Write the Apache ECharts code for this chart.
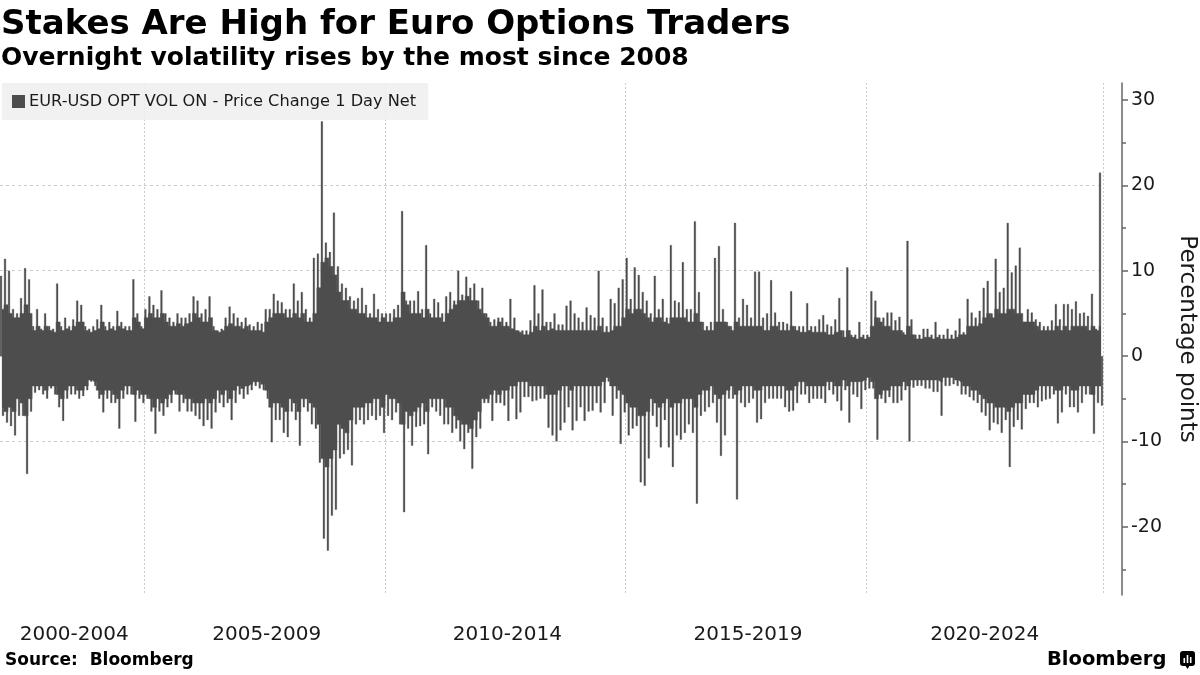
<!DOCTYPE html>
<html><head><meta charset="utf-8">
<script src="https://cdn.jsdelivr.net/npm/echarts@6/dist/echarts.min.js"></script>
<style>html,body{margin:0;padding:0;background:#fff}#c{width:1200px;height:675px}</style>
</head><body><div id="c"></div>
<script>
const seriesName = 'EUR-USD OPT VOL ON - Price Change 1 Day Net';
const firstYear = 2002, lastYear = 2024, lastMonth = 11;

// Band labels on the x axis and the month category each is centred on
const bandLabels = ['2000-2004', '2005-2009', '2010-2014', '2015-2019', '2020-2024'];
const bandLabelMonths = ['2003-07', '2007-07', '2012-07', '2017-07', '2022-06'];
const bandStartYears = ['2005', '2010', '2015', '2020'];

// y axis ticks
const yMajorTicks = [-20, -10, 0, 10, 20, 30];
const yMinorTicks = [-25, -15, -5, 5, 15, 25];

// Largest daily rise in each month (percentage points)
const high2002_2004 = [
  9.4, 11.4, 10, 5.5, 5, 6.8, 10.3, 9, 3.5, 5.5, 3.2, 5,
  3.5, 3.2, 8.5, 3.5, 4.5, 3.5, 4.3, 6.5, 6, 3.5, 3.2, 3.5,
  4.3, 6, 3.5, 4, 3.5, 5.3, 4, 3.5, 3.5, 9, 5, 3.5
];
const high2005_2009 = [
  5.5, 7, 6, 5.5, 7.7, 5, 4.5, 4, 5, 4.5, 4.5, 5,
  7, 6.5, 5, 5.5, 7, 3.5, 3, 3.2, 4.5, 5.8, 5, 4.5,
  4, 4.5, 3.7, 3.5, 4, 3.8, 5.5, 5.5, 7.3, 6.5, 6.3, 5.5,
  5.5, 8.5, 6.5, 7.5, 5.5, 4.5, 11.5, 12, 27.5, 13.3, 12.2, 16.8,
  10.5, 8.5, 8, 7, 6.5, 6.8, 8, 6, 5, 7.3, 5.5, 5
];
const high2010_2014 = [
  5, 5, 5.5, 6, 17, 6.5, 6.5, 6.5, 7.6, 5.5, 13, 5,
  6.7, 6.3, 5, 7, 7.5, 6.5, 10, 7.2, 9.3, 8, 8.5, 6.5,
  8, 5, 4, 4.3, 4.5, 4.5, 4, 6.7, 4.5, 3, 3, 3,
  4.2, 8.3, 5, 7.8, 4, 4, 5, 3.7, 3.7, 5.9, 6.5, 5,
  4.5, 4, 5.7, 4.8, 4.5, 10, 4.5, 3.5, 6.7, 6.2, 8, 9
];
const high2015_2019 = [
  11.5, 6.7, 10.4, 9.5, 7.5, 6.5, 5, 9.4, 5.5, 6.7, 4.5, 13,
  6.5, 6.3, 11, 5.5, 5.5, 15.8, 7.5, 4, 3.5, 4, 11.5, 12.9,
  5.5, 4, 3.5, 15.6, 4.5, 6.7, 6, 4.5, 9.9, 9.9, 4.5, 5,
  8.9, 5.1, 4, 4, 3.8, 7.6, 3.5, 3.5, 3.5, 6.2, 3.5, 3.5,
  4.3, 4.8, 3.7, 3.5, 4.3, 6.8, 3, 10.4, 2.5, 2.5, 4, 2.5
];
const high2020_2024 = [
  2.5, 7.6, 6.5, 4.5, 4.5, 5.1, 5.1, 4.2, 4.6, 2.8, 13.5, 4.3,
  2.5, 2.5, 3.2, 3.2, 2.5, 4, 2.5, 2.5, 3.2, 2.5, 3, 4.4,
  2.8, 6.7, 5.1, 4.5, 5.3, 8, 8.8, 5, 11.4, 7.5, 8, 15.6,
  9.8, 10.6, 12.7, 4, 5.5, 5.1, 4.3, 4, 3.5, 3.5, 4.2, 6.1,
  4.3, 6.1, 6.1, 5.5, 6.4, 5, 5.1, 4.7, 7.3, 3.2, 21.5
];

// Largest daily fall in each month
const low2002_2004 = [
  -7, -7.8, -8.2, -9.3, -7, -7, -13.8, -6.5, -4.3, -4, -4.5, -5,
  -3.8, -4.5, -6, -7.6, -5, -4.5, -4.5, -5, -4.7, -4, -3, -3.5,
  -5, -6.6, -5, -5.5, -5.5, -8.5, -5, -4.5, -4.5, -7.7, -5, -5.5
];
const low2005_2009 = [
  -5, -6.5, -9.1, -6.5, -7, -6, -5.5, -4.5, -6.5, -5.5, -6.5, -6.5,
  -7, -7.4, -8.2, -7.5, -8.5, -6.6, -5.5, -6, -5.5, -7.5, -5.5, -4.5,
  -5, -4.5, -4, -3.5, -3.8, -4, -5, -10.1, -7.5, -7.5, -9, -9.5,
  -6.5, -7.5, -10.5, -6, -6.5, -8, -8.5, -12.5, -21.4, -22.8, -18.7, -18,
  -12, -11.5, -11, -12.8, -8, -7.5, -8, -7.5, -7, -7.5, -7, -9
];
const low2010_2014 = [
  -7, -7.5, -6.6, -8, -18.3, -8.5, -10.5, -8.3, -8.2, -8, -11.5, -6,
  -6.5, -7, -8, -8, -9, -8.5, -10, -10.9, -9, -13.2, -9.5, -8.5,
  -5.5, -5.5, -7.6, -5.5, -5.5, -5.8, -7.6, -5, -7.4, -6.6, -4.8, -4.8,
  -5.3, -5.2, -5, -5, -8.4, -9.3, -10, -8.7, -7.8, -6, -8.7, -7.6,
  -6, -7.6, -6.5, -6.4, -5.5, -6.6, -5.5, -3, -7, -5, -10.3, -6.6
];
const low2015_2019 = [
  -9.3, -8.5, -8.2, -14.8, -15.2, -12, -7, -8.3, -10.7, -7.5, -10.7, -13,
  -9.3, -9.8, -9, -8, -9, -17.3, -7, -6.5, -6, -5.5, -7.8, -11.7,
  -9.3, -5, -5, -16.8, -5.5, -6, -5.5, -5, -7.8, -7.4, -5.5, -5,
  -5, -5, -5, -6, -6.5, -6.4, -5.5, -4.5, -4.5, -5.5, -5, -5,
  -5, -5.5, -4, -4.5, -5.3, -6.4, -4, -7.8, -4.5, -4.8, -6.2, -4
];
const low2020_2024 = [
  -3.8, -3.8, -9.8, -5, -5.5, -4.8, -5.5, -5.5, -5.2, -4, -10, -3.7,
  -3.5, -3.5, -3.8, -3.8, -4.2, -4.2, -7, -3.5, -3.5, -3.3, -3.5, -4.5,
  -4.5, -4.8, -5.2, -5.5, -6.6, -7, -8.7, -7.8, -8, -9, -7.5, -13,
  -8.3, -7.5, -8.6, -6.2, -5.5, -5.5, -6, -5.3, -5.1, -5, -4.5, -7.9,
  -6.6, -4.5, -6, -6, -6.6, -5.5, -4.5, -4.5, -9.1, -5.5, -5.8
];

// Edge of the dense band of ordinary daily rises, per month
const typicalRise2002_2004 = [
  5.5, 6, 5, 4.5, 4.5, 5, 6, 5, 3, 3.5, 3, 3.5,
  3, 2.8, 4, 3, 3.2, 3, 3.5, 4, 4, 3, 2.8, 3,
  3.2, 4, 3, 3.2, 3, 3.5, 3.2, 3, 3, 4.5, 4, 3.2
];
const typicalRise2005_2009 = [
  4.5, 5, 4.5, 4.5, 5, 4, 3.5, 3.5, 3.8, 3.5, 3.8, 4,
  5, 4.5, 4, 4, 4.5, 3, 2.8, 3, 3.5, 3.8, 3.5, 3.5,
  3.2, 3.5, 3, 3, 3, 2.8, 4, 4.5, 5, 5, 5, 4.5,
  4.5, 5, 4.5, 5, 4, 4, 5, 8, 11, 11.5, 10.5, 9.5,
  7.5, 6.5, 6.5, 5.5, 5.5, 5, 5, 4.5, 4.5, 4.5, 4, 4.5
];
const typicalRise2010_2014 = [
  4, 4, 4.5, 4.5, 7.5, 6, 5, 5, 5, 4.5, 5.5, 4.5,
  4.5, 4.5, 4, 5, 5.5, 6, 6.5, 6.5, 7, 6.5, 6.5, 5.5,
  5, 4.5, 3.5, 3.5, 4, 3.5, 3.5, 3.2, 3, 2.8, 2.5, 2.5,
  2.8, 3.5, 3, 3.5, 3, 3.2, 3, 3, 3, 3, 3, 3,
  3, 3, 3, 3, 3, 3.5, 2.8, 2.8, 3, 3.5, 3.5, 4.5
];
const typicalRise2015_2019 = [
  5.5, 5, 5.5, 5.5, 5, 4.5, 4, 4.5, 4.5, 4, 3.8, 4.5,
  4.5, 4.5, 4.5, 4, 4, 5, 4, 3, 3, 3, 4, 4,
  4, 3.5, 3, 4, 3.5, 3.5, 3.5, 3.5, 3.5, 3.5, 3, 3,
  3.5, 3.5, 3, 3, 3, 3.5, 3, 2.8, 2.8, 3, 2.8, 2.8,
  2.8, 2.8, 2.5, 2.5, 2.8, 3, 2.2, 3, 2.2, 2, 2.2, 2
];
const typicalRise2020_2024 = [
  2.2, 3.5, 4.5, 4, 3.5, 3.5, 3, 3, 3, 2.5, 3.5, 2.5,
  2, 2, 2.2, 2.2, 2, 2.2, 2, 2, 2, 2, 2.2, 2.5,
  2.5, 3.5, 3.5, 3.5, 3.8, 4.5, 5, 4.5, 5.5, 5, 5, 5.5,
  5.5, 5, 5, 4, 4, 4, 3.5, 3, 3, 3, 3, 3.5,
  3, 3.5, 3, 3.5, 3.5, 3.5, 3.5, 3, 3.5, 3, 3.5
];

// Edge of the dense band of ordinary daily falls, per month
const typicalFall2002_2004 = [
  -6, -6.5, -6, -6.5, -5, -5.5, -7, -5, -3.5, -3.5, -3.5, -4,
  -3.5, -3.5, -4.5, -5, -4, -3.5, -3.5, -4, -4, -3.5, -2.8, -3,
  -4, -4.5, -4, -4, -4.5, -5, -4, -3.5, -3.5, -4.5, -4, -4.5
];
const typicalFall2005_2009 = [
  -4.5, -5, -6, -5, -5.5, -5, -4.5, -4, -4.5, -4.5, -5, -5,
  -5.5, -5.5, -5.5, -5, -5.5, -5, -4, -4.5, -4, -5, -4, -3.5,
  -3.8, -3.5, -3.3, -3, -3, -3.3, -4, -6, -5.5, -5.5, -6, -6.5,
  -5, -5.5, -6.5, -5, -5, -5.5, -6, -8, -12, -13, -12, -11,
  -8, -8.5, -9, -7.5, -6, -6, -6, -5.5, -5.5, -5, -5, -6
];
const typicalFall2010_2014 = [
  -4.5, -5, -5, -5.5, -8, -6.5, -7, -6.5, -6, -5.5, -6.5, -5,
  -5, -5, -5, -6, -6, -7, -7.5, -8, -8, -8.5, -7.5, -6.5,
  -5, -5, -4.5, -4, -4.5, -4, -4, -3.5, -3.5, -3, -3, -3,
  -3.5, -3.5, -3.5, -3.5, -4.5, -4.5, -4.5, -4, -3.5, -3.5, -4, -3.5,
  -3.5, -3.5, -3.5, -3.5, -3.5, -3.5, -3, -2.5, -3.5, -3.5, -4, -4.5
];
const typicalFall2015_2019 = [
  -5.5, -6, -6, -7, -7, -6.5, -5, -5.5, -6, -5.5, -5, -6,
  -5.5, -5.5, -5, -5, -5, -6, -4.5, -4, -4, -3.5, -4.5, -5,
  -4.5, -4, -3.5, -4.5, -4, -3.5, -3.5, -3.5, -4, -4, -3.5, -3.5,
  -3.5, -3.5, -3.5, -3.5, -4, -4, -3.5, -3, -3, -3.5, -3.5, -3.5,
  -3.5, -3.5, -3, -3, -3.5, -3.5, -2.8, -3.5, -3, -3, -3, -2.8
];
const typicalFall2020_2024 = [
  -2.5, -3, -5, -4.5, -4, -4, -3.5, -3.5, -3.5, -3, -3.5, -2.8,
  -2.8, -2.8, -2.8, -2.8, -2.8, -2.8, -3, -2.5, -2.5, -2.5, -2.8, -3,
  -3.5, -3.5, -4, -4, -4.5, -5, -5.5, -5.5, -6, -6, -6, -6.5,
  -6, -5.5, -5.5, -4.5, -4.5, -4.5, -4, -3.5, -3.5, -3.5, -3.5, -4,
  -4, -3.5, -3.5, -4, -4, -3.5, -3.5, -3.5, -4.5, -3.5, -3.5
];

// ---- build categories and series from the arrays above ----
const months = [];
for (let y = firstYear; y <= lastYear; y++) {
  for (let m = 1; m <= 12; m++) {
    if (y === lastYear && m > lastMonth) break;
    months.push(y + '-' + String(m).padStart(2, '0'));
  }
}
const monthlyHigh = [].concat(high2002_2004, high2005_2009, high2010_2014, high2015_2019, high2020_2024);
const monthlyLow = [].concat(low2002_2004, low2005_2009, low2010_2014, low2015_2019, low2020_2024);
const typicalRise = [].concat(typicalRise2002_2004, typicalRise2005_2009, typicalRise2010_2014, typicalRise2015_2019, typicalRise2020_2024);
const typicalFall = [].concat(typicalFall2002_2004, typicalFall2005_2009, typicalFall2010_2014, typicalFall2015_2019, typicalFall2020_2024);
const labelFor = {};
bandLabelMonths.forEach((m, i) => { labelFor[m] = bandLabels[i]; });

const barColor = '#4d4d4d';
const textColor = '#1a1a1a';
const gridColor = '#cccccc';
const font = 'DejaVu Sans';

const chart = echarts.init(document.getElementById('c'), null, { renderer: 'canvas' });
const barCommon = {
  name: seriesName, type: 'bar',
  itemStyle: { color: barColor, borderColor: barColor, borderWidth: 0.3 },
  barCategoryGap: '0%', barGap: '0%', silent: true, animation: false
};
const bandCommon = {
  name: seriesName, type: 'line', step: 'middle', symbol: 'none', silent: true,
  lineStyle: { color: barColor, width: 0.5 }, itemStyle: { color: barColor },
  areaStyle: { color: barColor, opacity: 1 }, animation: false
};
chart.setOption({
  animation: false,
  backgroundColor: '#ffffff',
  textStyle: { fontFamily: font },
  title: [
    { text: 'Stakes Are High for Euro Options Traders', left: 1, top: 8, padding: 0,
      textStyle: { fontFamily: font, fontWeight: 'bold', fontSize: 34, color: '#000' } },
    { text: 'Overnight volatility rises by the most since 2008', left: 1, top: 46, padding: 0,
      textStyle: { fontFamily: font, fontWeight: 'bold', fontSize: 25, color: '#000' } }
  ],
  legend: {
    show: true, left: 2, top: 83, data: [seriesName], icon: 'rect',
    itemWidth: 11, itemHeight: 11, selectedMode: false,
    backgroundColor: 'rgba(238,238,238,0.85)', padding: [10, 12, 10, 10],
    textStyle: { fontFamily: font, fontSize: 16.2, color: textColor, lineHeight: 17 }
  },
  grid: { left: 0, right: 97, top: 83, bottom: 80, containLabel: false, outerBoundsMode: 'none' },
  xAxis: {
    type: 'category', data: months, boundaryGap: true,
    axisLine: { show: false }, axisTick: { show: false },
    axisLabel: {
      interval: (i, v) => v in labelFor, formatter: v => labelFor[v] || '',
      fontFamily: font, fontSize: 20, color: textColor, margin: 30
    },
    splitLine: {
      show: true,
      interval: (i, v) => v.endsWith('-01') && bandStartYears.includes(v.slice(0, 4)),
      lineStyle: { color: gridColor, type: [2, 2], width: 1 }
    }
  },
  yAxis: [
    {
      type: 'value', position: 'right', offset: 19, min: -28, max: 32, splitNumber: 6,
      axisLine: { show: true, onZero: false, lineStyle: { color: '#666', width: 1.5 } },
      axisTick: { show: true, length: 6, customValues: yMajorTicks, lineStyle: { color: '#666', width: 1.5 } },
      axisLabel: { customValues: yMajorTicks, margin: 9, fontFamily: font, fontSize: 19, color: textColor },
      splitLine: { show: true, showMinLine: false, showMaxLine: false,
        lineStyle: { color: gridColor, type: [3, 3], width: 1 } },
      name: 'Percentage points', nameLocation: 'middle', nameRotate: -90, nameGap: 53,
      nameTextStyle: { fontFamily: font, fontSize: 23, color: textColor }
    },
    {
      type: 'value', position: 'right', offset: 19, min: -28, max: 32,
      axisLine: { show: false },
      axisTick: { show: true, length: 4, customValues: yMinorTicks, lineStyle: { color: '#666', width: 1.5 } },
      axisLabel: { show: false }, splitLine: { show: false }
    }
  ],
  series: [
    Object.assign({}, barCommon, { data: monthlyHigh }),
    Object.assign({}, barCommon, { data: monthlyLow }),
    Object.assign({}, bandCommon, { data: typicalRise }),
    Object.assign({}, bandCommon, { data: typicalFall })
  ],
  graphic: [
    { type: 'text', left: 5, top: 652, style: { text: 'Source:  Bloomberg', fontFamily: font, fontWeight: 'bold', fontSize: 17, fill: '#000' } },
    { type: 'text', left: 1047, top: 650, style: { text: 'Bloomberg', fontFamily: font, fontWeight: 'bold', fontSize: 19.5, fill: '#000' } },
    { type: 'group', left: 1180, top: 651, children: [
      { type: 'rect', shape: { x: 0, y: 0, width: 15, height: 15, r: 3 }, style: { fill: '#000' } },
      { type: 'polygon', shape: { points: [[5, 14], [10, 14], [7.5, 18]] }, style: { fill: '#000' } },
      { type: 'rect', shape: { x: 3.5, y: 7, width: 1.6, height: 5 }, style: { fill: '#fff' } },
      { type: 'rect', shape: { x: 6.7, y: 4, width: 1.6, height: 8 }, style: { fill: '#fff' } },
      { type: 'rect', shape: { x: 9.9, y: 6, width: 1.6, height: 6 }, style: { fill: '#fff' } }
    ] }
  ]
});
</script>
</body></html>
